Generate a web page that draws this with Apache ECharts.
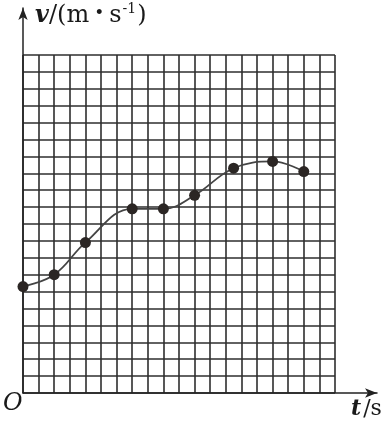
<!DOCTYPE html>
<html>
<head>
<meta charset="utf-8">
<script src="https://cdn.jsdelivr.net/npm/echarts@6/dist/echarts.min.js"></script>
<style>
html,body{margin:0;padding:0;background:#fff;}
#c{width:384px;height:425px;}
</style>
</head>
<body>
<div id="c"></div>
<script>
var tValues = [0, 2, 4, 7, 9, 11, 13.5, 16, 18];
var vValues = [6.3, 7.0, 8.9, 10.9, 10.9, 11.7, 13.3, 13.7, 13.1];
var gridCols = 20;
var gridRows = 20;

var points = tValues.map(function (t, i) { return [t, vValues[i]]; });
var ink = '#2e2e2e';
var serif = 'DejaVu Serif';
var chart = echarts.init(document.getElementById('c'), null, {renderer: 'canvas'});
chart.setOption({
  backgroundColor: '#fff',
  animation: false,
  grid: [
    {left: 23, top: 55, right: 49, bottom: 32, show: false},
    {left: 23, top: 8, right: 7, bottom: 32, show: false}
  ],
  xAxis: [
    {gridIndex: 0, type: 'value', min: 0, max: gridCols, interval: 1,
     axisLine: {show: false}, axisTick: {show: false}, axisLabel: {show: false},
     splitLine: {show: true, lineStyle: {color: ink, width: 1.6}}},
    {gridIndex: 1, type: 'value', min: 0, max: 1,
     axisLine: {show: true, symbol: ['none', 'arrow'], symbolSize: [7, 12], lineStyle: {color: '#222', width: 1.5}},
     axisTick: {show: false}, axisLabel: {show: false}, splitLine: {show: false}}
  ],
  yAxis: [
    {gridIndex: 0, type: 'value', min: 0, max: gridRows, interval: 1,
     axisLine: {show: false}, axisTick: {show: false}, axisLabel: {show: false},
     splitLine: {show: true, lineStyle: {color: ink, width: 1.6}}},
    {gridIndex: 1, type: 'value', min: 0, max: 1,
     axisLine: {show: true, symbol: ['none', 'arrow'], symbolSize: [7, 12], lineStyle: {color: '#222', width: 1.5}},
     axisTick: {show: false}, axisLabel: {show: false}, splitLine: {show: false}}
  ],
  series: [{
    type: 'line',
    xAxisIndex: 0, yAxisIndex: 0,
    data: points,
    smooth: 0.4,
    symbol: 'circle',
    symbolSize: 11,
    lineStyle: {color: '#444', width: 1.8},
    itemStyle: {color: '#2b2624'}
  }],
  graphic: [
    {type: 'text', left: 35, top: 2, style: {
      text: '{v|v}{n|/(m}{d|•}{n|s}{sup|-1}{n|)}',
      rich: {
        v: {fontFamily: serif, fontStyle: 'italic', fontWeight: 'bold', fontSize: 24, fill: '#1a1a1a'},
        n: {fontFamily: serif, fontSize: 24, fill: '#1a1a1a'},
        d: {fontFamily: serif, fontSize: 17, fill: '#1a1a1a', padding: [0, 5, 4, 5]},
        sup: {fontFamily: serif, fontSize: 14, fill: '#1a1a1a', padding: [0, 1, 13, 1]}
      }
    }},
    {type: 'text', left: 351, top: 398, style: {
      text: '{t|t}{n|/s}',
      rich: {
        t: {fontFamily: serif, fontStyle: 'italic', fontWeight: 'bold', fontSize: 22, fill: '#1a1a1a', padding: [0, 2, 0, 0]},
        n: {fontFamily: serif, fontSize: 22, fill: '#1a1a1a'}
      }
    }},
    {type: 'text', left: 3, top: 392, style: {
      text: 'O', fontFamily: serif, fontStyle: 'italic', fontSize: 24, fill: '#1a1a1a'
    }}
  ]
});
</script>
</body>
</html>
